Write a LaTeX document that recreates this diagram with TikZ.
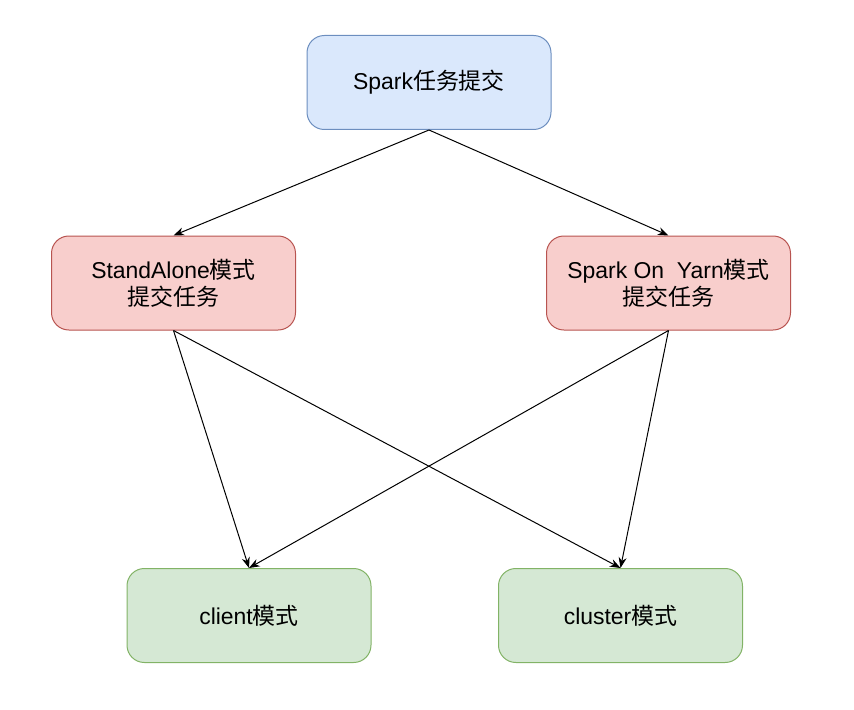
\documentclass[tikz,border=0pt]{standalone}
\usepackage{fontspec}
\setmainfont{Liberation Sans}
\newfontfamily\cjk{Noto Sans CJK SC}
\usetikzlibrary{arrows.meta}
\definecolor{blueFill}{HTML}{DAE8FC}
\definecolor{blueLine}{HTML}{6C8EBF}
\definecolor{redFill}{HTML}{F8CECC}
\definecolor{redLine}{HTML}{B85450}
\definecolor{greenFill}{HTML}{D5E8D4}
\definecolor{greenLine}{HTML}{82B366}

\begin{document}
\begin{tikzpicture}[x=0.75pt,y=0.75pt,yscale=-1,xscale=1,
	box/.style={draw,line width=0.75pt,rounded corners=13pt,minimum width=183pt,minimum height=70.5pt,align=center,inner sep=0pt,font=\fontsize{17.2}{20.5}\selectfont},
	blueBox/.style={box,fill=blueFill,draw=blueLine},
	redBox/.style={box,fill=redFill,draw=redLine},
	greenBox/.style={box,fill=greenFill,draw=greenLine},
	link/.style={line width=0.75pt,-{Stealth[length=8pt,width=6pt]}}]
		\useasboundingbox (0,0) rectangle (854,710); %picture is 854 wide, 710 high

		% Shape: top box
		\node [blueBox] (submit) at (429,82.5) {Spark{\cjk 任务提交}};
		% Shape: middle boxes
		\node [redBox] (alone) at (173.5,283) {StandAlone{\cjk 模式}\\{\cjk 提交任务}};
		\node [redBox] (yarn) at (668.5,283) {Spark On\ \ Yarn{\cjk 模式}\\{\cjk 提交任务}};
		% Shape: bottom boxes
		\node [greenBox] (client) at (249,615.5) {client{\cjk 模式}};
		\node [greenBox] (cluster) at (620.5,615.5) {cluster{\cjk 模式}};

		% Straight Lines
		\draw [link] (submit.south) -- (alone.north);
		\draw [link] (submit.south) -- (yarn.north);
		\draw [link] (alone.south) -- (client.north);
		\draw [link] (alone.south) -- (cluster.north);
		\draw [link] (yarn.south) -- (client.north);
		\draw [link] (yarn.south) -- (cluster.north);
\end{tikzpicture}
\end{document}
